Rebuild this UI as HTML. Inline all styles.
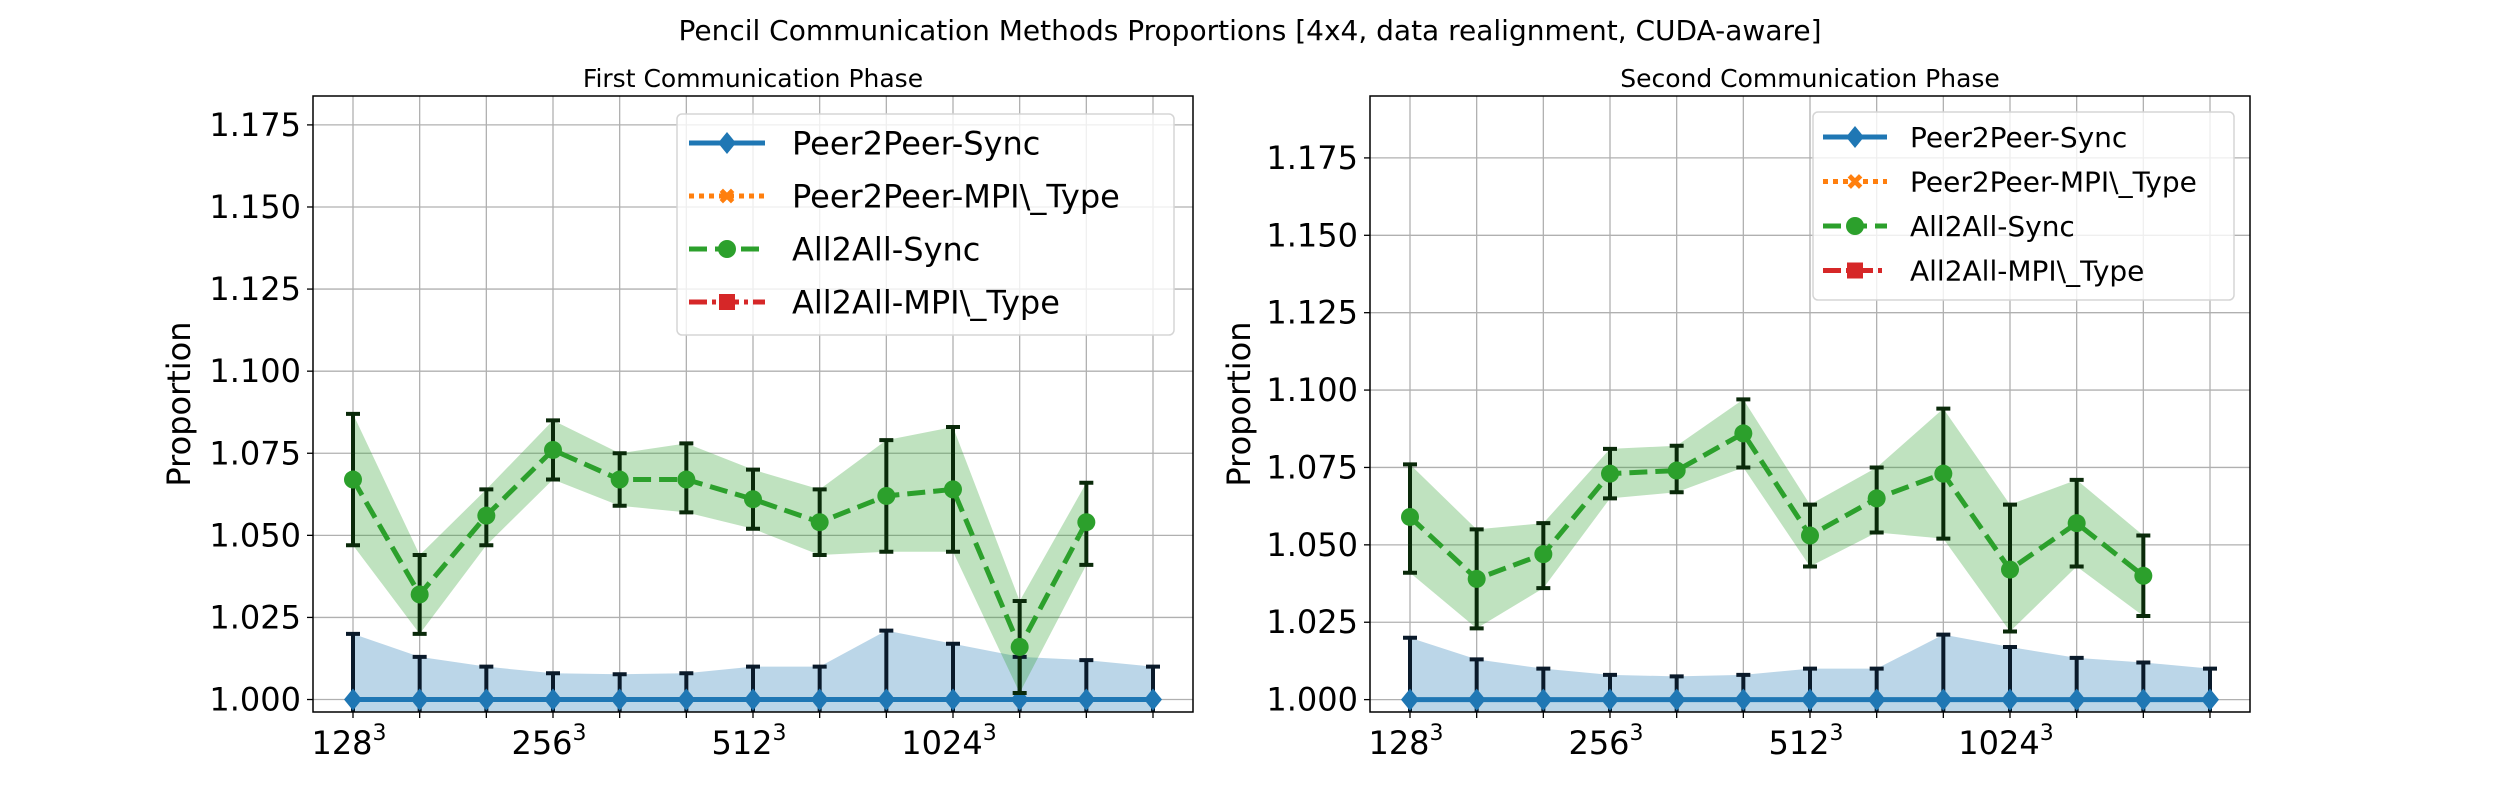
<!DOCTYPE html>
<html><head><meta charset="utf-8"><style>
html,body{margin:0;padding:0;background:#fff;}
svg{display:block;font-family:"DejaVu Sans","Liberation Sans",sans-serif;}
</style></head><body>
<svg id="fig" width="2500" height="800" viewBox="0 0 2500 800" xmlns="http://www.w3.org/2000/svg">
<rect width="2500" height="800" fill="#fff"/>
<text x="1250" y="40" font-size="28" text-anchor="middle">Pencil Communication Methods Proportions [4x4, data realignment, CUDA-aware]</text>
</svg>
<script>
const categories = ["128","","","256","","","512","","","1024","","",""];
const yTicks = [1.000,1.025,1.050,1.075,1.100,1.125,1.150,1.175];
const legendLabels = ["Peer2Peer-Sync","Peer2Peer-MPI\\_Type","All2All-Sync","All2All-MPI\\_Type"];

const p1Green = [1.067,1.032,1.056,1.076,1.067,1.067,1.061,1.054,1.062,1.064,1.016,1.054];
const p1GreenHi = [1.087,1.044,1.064,1.085,1.075,1.078,1.070,1.064,1.079,1.083,1.030,1.066];
const p1GreenLo = [1.047,1.020,1.047,1.067,1.059,1.057,1.052,1.044,1.045,1.045,1.002,1.041];
const p1Blue = [1,1,1,1,1,1,1,1,1,1,1,1,1];
const p1BlueHi = [1.020,1.013,1.010,1.008,1.0077,1.008,1.010,1.010,1.021,1.017,1.013,1.012,1.010];

const p2Green = [1.059,1.039,1.047,1.073,1.074,1.086,1.053,1.065,1.073,1.042,1.057,1.040];
const p2GreenHi = [1.076,1.055,1.057,1.081,1.082,1.097,1.063,1.075,1.094,1.063,1.071,1.053];
const p2GreenLo = [1.041,1.023,1.036,1.065,1.067,1.075,1.043,1.054,1.052,1.022,1.043,1.027];
const p2Blue = [1,1,1,1,1,1,1,1,1,1,1,1,1];
const p2BlueHi = [1.020,1.013,1.010,1.008,1.0075,1.008,1.010,1.010,1.021,1.017,1.0135,1.012,1.010];

const NS = "http://www.w3.org/2000/svg";
const svg = document.getElementById("fig");
function mk(tag, attrs, parent){
  const e = document.createElementNS(NS, tag);
  for (const k in attrs) e.setAttribute(k, attrs[k]);
  (parent||svg).appendChild(e);
  return e;
}

function panel(cfg){
  const {L,R,T,B,ymin,ymax,title,green,gHi,gLo,blue,bHi,leg,id,ylabX} = cfg;
  const xmin=-0.6, xmax=12.6;
  const X = v => L + (v-xmin)/(xmax-xmin)*(R-L);
  const Y = v => B - (v-ymin)/(ymax-ymin)*(B-T);
  const g = mk("g",{});
  
  
  const clipId = id+"clip";
  const cp = mk("clipPath",{id:clipId},g);
  mk("rect",{x:L,y:T,width:R-L,height:B-T},cp);
  categories.forEach((c,i)=>{
    const l = mk("line",{x1:X(i),x2:X(i),y1:T,y2:B,stroke:"#b0b0b0","stroke-width":1.3},g);
    
    
    mk("line",{x1:X(i),x2:X(i),y1:B,y2:B+6,stroke:"#000","stroke-width":1.3},g);
    if(c){
      const t = mk("text",{x:X(i)-4,y:B+42,"font-size":32,"text-anchor":"middle"},g);
      
      
      t.textContent = c;
      const s = mk("tspan",{"font-size":22,dy:-14},t);
      s.textContent = "3";
    }
  });
  yTicks.forEach(v=>{
    const l = mk("line",{x1:L,x2:R,y1:Y(v),y2:Y(v),stroke:"#b0b0b0","stroke-width":1.3},g);
    
    
    mk("line",{x1:L-6,x2:L,y1:Y(v),y2:Y(v),stroke:"#000","stroke-width":1.3},g);
    const t = mk("text",{x:L-12,y:Y(v)+11,"font-size":32,"text-anchor":"end"},g);
    
    
    t.textContent = v.toFixed(3);
  });
  const pg = mk("g",{"clip-path":"url(#"+clipId+")"},g);
  let d = blue.map((v,i)=>(i?"L":"M")+X(i)+","+Y(bHi[i])).join("");
  for(let i=blue.length-1;i>=0;i--) d += "L"+X(i)+","+Y(ymin-0.01);
  const bf = mk("path",{d:d+"Z",fill:"#1f77b4","fill-opacity":0.3},pg);
  
  
  d = green.map((v,i)=>(i?"L":"M")+X(i)+","+Y(gHi[i])).join("");
  for(let i=green.length-1;i>=0;i--) d += "L"+X(i)+","+Y(gLo[i]);
  const gf = mk("path",{d:d+"Z",fill:"#2ca02c","fill-opacity":0.3},pg);
  
  
  blue.forEach((v,i)=>{
    const e = mk("path",{d:`M${X(i)},${Y(ymin-0.01)}V${Y(bHi[i])}M${X(i)-7},${Y(bHi[i])}h14`,stroke:"#0a1a2a","stroke-width":4,fill:"none"},pg);
    
    
  });
  const bl = mk("polyline",{points:blue.map((v,i)=>X(i)+","+Y(v)).join(" "),stroke:"#1f77b4","stroke-width":5,fill:"none"},pg);
  
  
  blue.forEach((v,i)=>{
    const m = mk("path",{d:`M${X(i)},${Y(v)-11}l9,11l-9,11l-9,-11z`,fill:"#1f77b4"},pg);
    
    
  });
  green.forEach((v,i)=>{
    const e = mk("path",{d:`M${X(i)},${Y(gLo[i])}V${Y(gHi[i])}M${X(i)-7},${Y(gHi[i])}h14M${X(i)-7},${Y(gLo[i])}h14`,stroke:"#0a2a0a","stroke-width":4,fill:"none"},pg);
    
    
  });
  const gl = mk("polyline",{points:green.map((v,i)=>X(i)+","+Y(v)).join(" "),stroke:"#2ca02c","stroke-width":5,"stroke-dasharray":"18,8",fill:"none"},pg);
  
  
  green.forEach((v,i)=>{
    const m = mk("circle",{cx:X(i),cy:Y(v),r:9,fill:"#2ca02c"},pg);
    
    
  });
  mk("rect",{x:L,y:T,width:R-L,height:B-T,fill:"none",stroke:"#000","stroke-width":1.5},g);
  const tt = mk("text",{x:(L+R)/2,y:87,"font-size":25,"text-anchor":"middle"},g);
  
  
  tt.textContent = title;
  const yl = mk("text",{x:ylabX,y:(T+B)/2,"font-size":32,"text-anchor":"middle",transform:`rotate(-90 ${ylabX} ${(T+B)/2})`},g);
  
  
  yl.textContent = "Proportion";
  const lg = mk("g",{},g);
  
  
  mk("rect",{x:leg.x,y:leg.y,width:leg.w,height:leg.h,rx:5,fill:"#fff","fill-opacity":0.8,stroke:"#d5d5d5","stroke-width":1.5},lg);
  const colors=["#1f77b4","#ff7f0e","#2ca02c","#d62728"];
  const dashes=["none","5,5","18,8","18,5,4,5"];
  legendLabels.forEach((lab,k)=>{
    const yy = leg.y0 + k*leg.dy;
    const ent = mk("g",{},lg);
    
    
    mk("line",{x1:leg.hx,x2:leg.hx+leg.hw,y1:yy,y2:yy,stroke:colors[k],"stroke-width":5,"stroke-dasharray":dashes[k]},ent);
    const cx = leg.hx+leg.hw/2;
    if(k==0) mk("path",{d:`M${cx},${yy-11}l9,11l-9,11l-9,-11z`,fill:colors[k]},ent);
    if(k==1) mk("text",{x:cx,y:yy+8,"font-size":22,"font-weight":"bold","text-anchor":"middle",fill:colors[k]},ent).textContent="✖";
    if(k==2) mk("circle",{cx:cx,cy:yy,r:9,fill:colors[k]},ent);
    if(k==3) mk("rect",{x:cx-8,y:yy-8,width:16,height:16,fill:colors[k]},ent);
    const t = mk("text",{x:leg.tx,y:yy+leg.fs*0.36,"font-size":leg.fs},ent);
    t.textContent = lab;
  });
}

panel({id:"first",L:313,R:1193,T:96,B:712,ymin:0.9962,ymax:1.1838,title:"First Communication Phase",
  green:p1Green,gHi:p1GreenHi,gLo:p1GreenLo,blue:p1Blue,bHi:p1BlueHi,ylabX:190,
  leg:{x:677,y:114,w:497,h:221,y0:143,dy:53,hx:689,hw:76,tx:792,fs:32}});
panel({id:"second",L:1370,R:2250,T:96,B:712,ymin:0.996,ymax:1.195,title:"Second Communication Phase",
  green:p2Green,gHi:p2GreenHi,gLo:p2GreenLo,blue:p2Blue,bHi:p2BlueHi,ylabX:1250,
  leg:{x:1813,y:112,w:421,h:188,y0:137,dy:44.5,hx:1823,hw:64,tx:1910,fs:28}});
</script>
</body></html>
